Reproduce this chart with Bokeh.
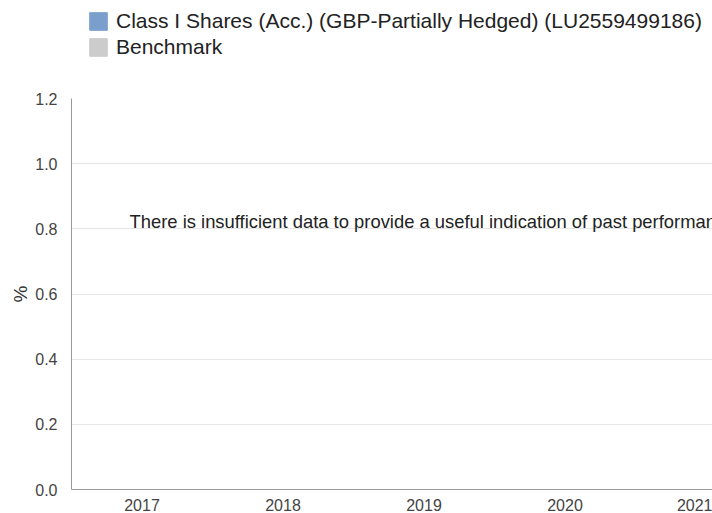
import math
from bokeh.plotting import figure
from bokeh.layouts import column
from bokeh.models import ColumnDataSource, Legend, LegendItem, Label, FixedTicker, Range1d
from bokeh.embed import file_html
from bokeh.resources import INLINE

years = ["2017", "2018", "2019", "2020", "2021"]
fund_returns = [math.nan, math.nan, math.nan, math.nan, math.nan]
benchmark_returns = [math.nan, math.nan, math.nan, math.nan, math.nan]
fund_name = "Class I Shares (Acc.) (GBP-Partially Hedged) (LU2559499186)"
bench_name = "Benchmark"
y_ticks = [0.0, 0.2, 0.4, 0.6, 0.8, 1.0, 1.2]
message = "There is insufficient data to provide a useful indication of past performance."

FONT = "Liberation Sans"
FUND_COLOR = "#7a9fcc"
BENCH_COLOR = "#cccccc"
xpos = [i + 0.5 for i in range(len(years))]

src = ColumnDataSource(dict(x=[v - 0.2 for v in xpos], x2=[v + 0.2 for v in xpos],
                            fund=fund_returns, bench=benchmark_returns))

# ---- legend strip ----
top = figure(width=712, height=88, output_backend="svg", toolbar_location=None,
             x_range=Range1d(0, 5), y_range=Range1d(0, 1.2),
             x_axis_type=None, y_axis_type=None,
             min_border_left=0, min_border_right=0, min_border_top=0, min_border_bottom=0)
top.outline_line_color = None
top.xgrid.visible = False
top.ygrid.visible = False
l1 = top.vbar(x="x", top="fund", width=0.35, source=src, color=FUND_COLOR)
l2 = top.vbar(x="x2", top="bench", width=0.35, source=src, color=BENCH_COLOR)
legend = Legend(items=[LegendItem(label=fund_name, renderers=[l1]),
                       LegendItem(label=bench_name, renderers=[l2])],
                location=(16, 29), orientation="vertical",
                glyph_width=22, glyph_height=22, label_height=18, spacing=2,
                label_standoff=7, padding=0, margin=0, border_line_color=None,
                background_fill_alpha=0, label_text_font=FONT, label_text_font_size="21px",
                label_text_color="#222222")
top.add_layout(legend)

# ---- main chart ----
p = figure(width=712, height=425, output_backend="svg", toolbar_location=None,
           x_range=Range1d(0, 641 / 141), y_range=Range1d(0, 1.2),
           min_border_left=71, min_border_right=0, min_border_top=10, min_border_bottom=22)
p.outline_line_color = None
p.vbar(x="x", top="fund", width=0.35, source=src, color=FUND_COLOR)
p.vbar(x="x2", top="bench", width=0.35, source=src, color=BENCH_COLOR)

p.xaxis.ticker = FixedTicker(ticks=xpos)
p.xaxis.major_label_overrides = {v: y for v, y in zip(xpos, years)}
p.xaxis.major_tick_line_color = None
p.xaxis.minor_tick_line_color = None
p.xaxis.axis_line_color = "#999999"
p.xaxis.major_label_text_font = FONT
p.xaxis.major_label_text_font_size = "16px"
p.xaxis.major_label_text_color = "#444444"
p.xaxis.major_label_standoff = 3

p.yaxis.ticker = FixedTicker(ticks=y_ticks)
p.yaxis.major_label_overrides = {v: f"{v:.1f}" for v in y_ticks}
p.yaxis.major_tick_line_color = None
p.yaxis.minor_tick_line_color = None
p.yaxis.axis_line_color = "#999999"
p.yaxis.major_label_text_font = FONT
p.yaxis.major_label_text_font_size = "16px"
p.yaxis.major_label_text_color = "#444444"
p.yaxis.major_label_standoff = 8
p.yaxis.axis_label = "%"
p.yaxis.axis_label_text_font = FONT
p.yaxis.axis_label_text_font_size = "19px"
p.yaxis.axis_label_text_font_style = "normal"
p.yaxis.axis_label_text_color = "#333333"
p.yaxis.axis_label_standoff = 1

p.xgrid.grid_line_color = None
p.ygrid.grid_line_color = "#e6e6e6"
p.ygrid.ticker = FixedTicker(ticks=y_ticks)

p.add_layout(Label(x=(129 - 71) / 141, y=0.824, text=message, text_font=FONT,
                   text_font_size="18.4px", text_color="#222222", text_baseline="middle"))

layout = column(top, p, spacing=0)
open("out.html", "w").write(file_html(layout, INLINE))
